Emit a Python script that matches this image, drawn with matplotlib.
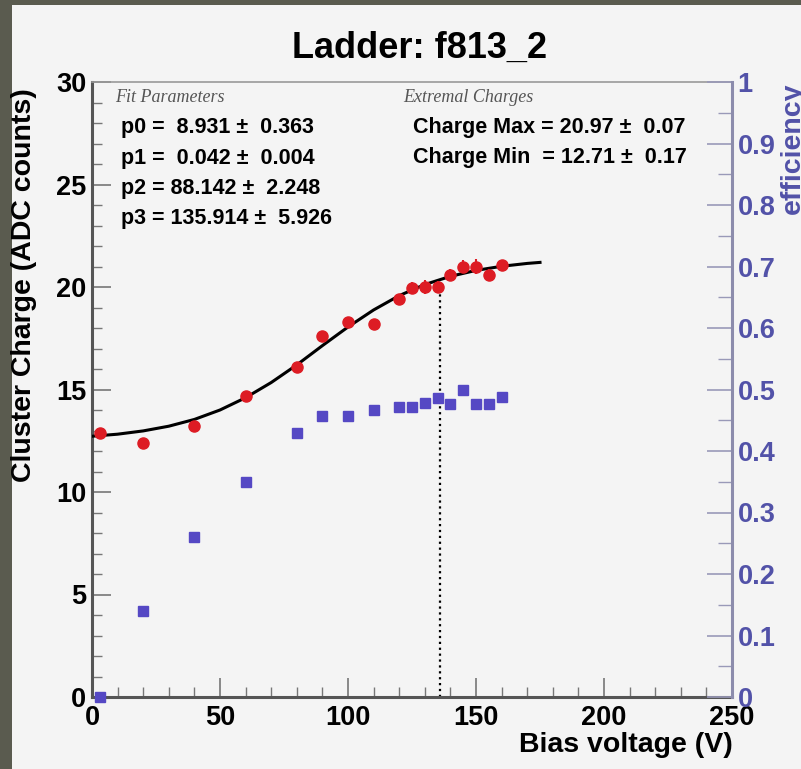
import matplotlib
matplotlib.use('Agg')
import matplotlib.pyplot as plt
from matplotlib.patches import Rectangle
from matplotlib.ticker import MultipleLocator

plt.rcParams['font.family'] = ['Liberation Sans', 'DejaVu Sans']

# charge vs bias voltage (left axis)
bias_v = [3, 20, 40, 60, 80, 90, 100, 110, 120, 125, 130, 135, 140, 145, 150, 155, 160]
charge = [12.9, 12.4, 13.2, 14.7, 16.1, 17.6, 18.3, 18.2, 19.4, 19.95, 20.0, 20.0,
          20.6, 21.0, 21.0, 20.6, 21.05]
charge_err = [0.2, 0.25, 0.25, 0.15, 0.2, 0.25, 0.25, 0.25, 0.25, 0.3, 0.35, 0.3,
              0.3, 0.3, 0.35, 0.3, 0.15]

# efficiency (right axis)
eff = [0.0, 0.14, 0.26, 0.35, 0.43, 0.457, 0.457, 0.467, 0.472, 0.472, 0.478, 0.486,
       0.476, 0.499, 0.476, 0.476, 0.488]

# fitted curve
fit_x = [0, 10, 20, 30, 40, 50, 60, 70, 80, 90, 100, 110, 120, 130, 140, 150, 160, 170, 175]
fit_y = [12.72, 12.82, 12.98, 13.21, 13.54, 14.0, 14.6, 15.34, 16.2, 17.14, 18.05, 18.88,
         19.58, 20.12, 20.52, 20.81, 21.01, 21.15, 21.2]

depletion_v = 135.914
depletion_q = 20.35

fit_lines = ['p0 =  8.931 \u00b1  0.363',
             'p1 =  0.042 \u00b1  0.004',
             'p2 = 88.142 \u00b1  2.248',
             'p3 = 135.914 \u00b1  5.926']
ext_lines = ['Charge Max = 20.97 \u00b1  0.07',
             'Charge Min  = 12.71 \u00b1  0.17']

W, H = 801, 769
panel = '#f4f4f4'
blue = '#5548c4'
blue_txt = '#5252a8'

fig = plt.figure(figsize=(W / 100, H / 100), dpi=100, facecolor='#5a5b4f')
fig.patches.append(Rectangle((12 / W, 0), 1, 1 - 5 / H, transform=fig.transFigure,
                             facecolor=panel, edgecolor='none', zorder=-10))

ax = fig.add_axes([92 / W, 1 - 697 / H, 640 / W, 615 / H])
ax.set_facecolor(panel)
ax.set_xlim(0, 250)
ax.set_ylim(0, 30)

ax.plot(fit_x, fit_y, color='black', lw=2.2, zorder=3)
ax.errorbar(bias_v, charge, yerr=charge_err, fmt='o', color='#dd1c24', ms=8,
            elinewidth=1.5, capsize=0, zorder=4, clip_on=False)
ax.plot([depletion_v, depletion_v], [0, depletion_q], color='black', ls=':', lw=1.6,
        zorder=2)

ax2 = ax.twinx()
ax2.set_ylim(0, 1)
ax2.plot(bias_v, eff, 's', color=blue, ms=6.8, zorder=5, clip_on=False)

# spines
for s in ['left', 'bottom']:
    ax.spines[s].set_color('#555555')
    ax.spines[s].set_linewidth(2.2)
ax.spines['top'].set_color('#999999')
ax.spines['top'].set_linewidth(1.2)
ax.spines['right'].set_visible(False)
for s in ['left', 'bottom', 'top']:
    ax2.spines[s].set_visible(False)
ax2.spines['right'].set_color('#8c8cac')
ax2.spines['right'].set_linewidth(2.2)

# ticks
ax.xaxis.set_major_locator(MultipleLocator(50))
ax.xaxis.set_minor_locator(MultipleLocator(10))
ax.yaxis.set_major_locator(MultipleLocator(5))
ax.yaxis.set_minor_locator(MultipleLocator(1))
ax.tick_params(which='both', direction='in', top=False, right=False, color='#777777')
ax.tick_params(which='major', length=14, width=1.2, labelsize=19.5, pad=4)
ax.tick_params(which='minor', length=7, width=1.0)
ax.tick_params(axis='x', which='major', pad=6)
for lab in ax.get_xticklabels() + ax.get_yticklabels():
    lab.set_fontweight('bold')

ax2.yaxis.set_major_locator(MultipleLocator(0.1))
ax2.yaxis.set_minor_locator(MultipleLocator(0.05))
ax2.tick_params(which='both', direction='in', color='#9999b8')
ax2.tick_params(which='major', length=18, width=1.2, labelsize=19.5, pad=4,
                labelcolor=blue_txt)
ax2.tick_params(which='minor', length=10, width=1.0)
ax2.set_yticks([i / 10 for i in range(11)])
ax2.set_yticklabels(['0', '0.1', '0.2', '0.3', '0.4', '0.5', '0.6', '0.7', '0.8',
                     '0.9', '1'], fontweight='bold')

# titles
fig.text(420 / W, 1 - 48 / H, 'Ladder: f813_2', ha='center', va='center',
         fontsize=26, fontweight='bold')
fig.text(24 / W, 1 - 88 / H, 'Cluster Charge (ADC counts)', rotation=90,
         ha='center', va='top', fontsize=20.5, fontweight='bold')
fig.text(733 / W, 1 - 745 / H, 'Bias voltage (V)', ha='right', va='center',
         fontsize=20.5, fontweight='bold')
fig.text(793 / W, 1 - 82 / H, 'efficiency', rotation=90, ha='center', va='top',
         fontsize=20.5, fontweight='bold', color=blue_txt)

# stats boxes
fig.text(115 / W, 1 - 97 / H, 'Fit Parameters', ha='left', va='center',
         fontsize=13, family='Liberation Serif', style='italic', color='#555555')
for i, line in enumerate(fit_lines):
    fig.text(121 / W, 1 - (128 + 30.3 * i) / H, line, ha='left', va='center',
             fontsize=15.5, fontweight='bold')
fig.text(403 / W, 1 - 97 / H, 'Extremal Charges', ha='left', va='center',
         fontsize=13, family='Liberation Serif', style='italic', color='#555555')
for i, line in enumerate(ext_lines):
    fig.text(413 / W, 1 - (128 + 29.5 * i) / H, line, ha='left', va='center',
             fontsize=15.5, fontweight='bold')

fig.savefig('out.png', dpi=100, facecolor=fig.get_facecolor())
